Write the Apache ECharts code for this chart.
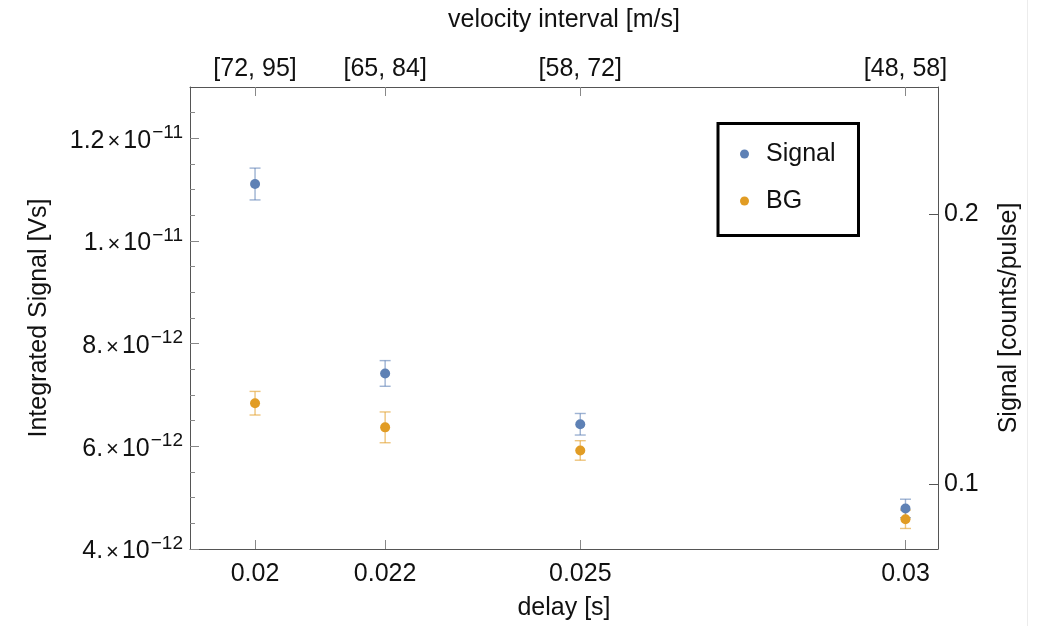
<!DOCTYPE html>
<html>
<head>
<meta charset="utf-8">
<script src="https://cdn.jsdelivr.net/npm/echarts@6/dist/echarts.min.js"></script>
<style>
html,body{margin:0;padding:0;background:#fff;}
#chart{width:1038px;height:626px;}
</style>
</head>
<body>
<div id="chart"></div>
<script>
const delays = [0.02, 0.022, 0.025, 0.03];
const velocityLabels = ['[72, 95]', '[65, 84]', '[58, 72]', '[48, 58]'];
const signalValues = [11.11e-12, 7.42e-12, 6.43e-12, 4.79e-12];
const signalErrors = [0.31e-12, 0.25e-12, 0.21e-12, 0.18e-12];
const bgValues = [6.84e-12, 6.37e-12, 5.92e-12, 4.58e-12];
const bgErrors = [0.23e-12, 0.30e-12, 0.19e-12, 0.18e-12];
const leftMajorTicks = [4e-12, 6e-12, 8e-12, 10e-12, 12e-12];
const leftMinorTicks = [4.5e-12, 5e-12, 5.5e-12, 6.5e-12, 7e-12, 7.5e-12, 8.5e-12, 9e-12, 9.5e-12,
                        10.5e-12, 11e-12, 11.5e-12, 12.5e-12];
const rightTicks = [0.1, 0.2];

const FONT = '"Liberation Sans", Arial, sans-serif';
const BLUE = '#5e81b5';
const ORANGE = '#e19c24';
const TXT = '#111';

function sciLabel(v) {
  const exp = Math.floor(Math.log10(v) + 1e-9);
  let mant = Math.round(v / Math.pow(10, exp) * 10) / 10;
  let ms = Number.isInteger(mant) ? mant + '.' : String(mant);
  return '{m|' + ms + '}{x|×}{m|10}{s|−' + Math.abs(exp) + '}';
}

function errRender(color) {
  return function (params, api) {
    const x = api.value(0), y = api.value(1), e = api.value(2);
    const t = api.coord([x, y + e]);
    const b = api.coord([x, y - e]);
    const w = 5.5;
    const style = { stroke: color, lineWidth: 1.4, opacity: 0.6 };
    return {
      type: 'group',
      children: [
        { type: 'line', shape: { x1: t[0], y1: t[1], x2: b[0], y2: b[1] }, style },
        { type: 'line', shape: { x1: t[0] - w, y1: t[1], x2: t[0] + w, y2: t[1] }, style },
        { type: 'line', shape: { x1: b[0] - w, y1: b[1], x2: b[0] + w, y2: b[1] }, style }
      ]
    };
  };
}

const chart = echarts.init(document.getElementById('chart'));
const axisLine = { show: true, lineStyle: { color: '#555', width: 1 } };
const tickStyle = { color: '#888', width: 1 };

chart.setOption({
  animation: false,
  textStyle: { fontFamily: FONT },
  grid: { left: 190, right: 100, top: 87, bottom: 77 },
  legend: {
    orient: 'vertical',
    left: 718, top: 123.5,
    padding: [17, 23, 21, 22],
    borderColor: '#000', borderWidth: 3,
    itemWidth: 9, itemHeight: 9, itemGap: 20,
    icon: 'circle',
    textStyle: { fontSize: 25, color: TXT, fontFamily: FONT, lineHeight: 27, padding: [0, 0, 0, 12] },
    data: ['Signal', 'BG']
  },
  xAxis: [
    {
      type: 'value', position: 'bottom', min: 0.019, max: 0.0305,
      name: 'delay [s]', nameLocation: 'middle', nameGap: 47,
      nameTextStyle: { fontSize: 25, color: TXT, fontFamily: FONT },
      axisLine: axisLine,
      splitLine: { show: false },
      axisTick: { show: true, inside: true, length: 9, lineStyle: tickStyle, customValues: delays },
      axisLabel: { fontSize: 25, color: TXT, margin: 13, fontFamily: FONT, customValues: delays,
        formatter: v => String(Math.round(v * 1000) / 1000) }
    },
    {
      type: 'value', position: 'top', min: 0.019, max: 0.0305,
      name: 'velocity interval [m/s]', nameLocation: 'middle', nameGap: 54,
      nameTextStyle: { fontSize: 25, color: TXT, fontFamily: FONT },
      axisLine: axisLine,
      splitLine: { show: false },
      axisTick: { show: true, inside: true, length: 9, lineStyle: tickStyle, customValues: delays },
      axisLabel: { fontSize: 25, color: TXT, margin: 5, fontFamily: FONT, customValues: delays,
        formatter: v => {
          const i = delays.findIndex(d => Math.abs(d - v) < 1e-9);
          return i >= 0 ? velocityLabels[i] : '';
        } }
    }
  ],
  yAxis: [
    {
      type: 'value', position: 'left', min: 4e-12, max: 1.3e-11,
      name: 'Integrated Signal [Vs]', nameLocation: 'middle', nameGap: 138,
      nameTextStyle: { fontSize: 25, color: TXT, fontFamily: FONT },
      axisLine: axisLine,
      splitLine: { show: false },
      axisTick: { show: true, inside: true, length: 9, lineStyle: tickStyle, customValues: leftMajorTicks },
      axisLabel: {
        margin: 7, color: TXT, fontFamily: FONT, customValues: leftMajorTicks,
        formatter: sciLabel,
        rich: {
          m: { fontSize: 25, color: TXT, fontFamily: FONT, lineHeight: 30, verticalAlign: 'bottom' },
          x: { fontSize: 22, color: TXT, fontFamily: FONT, lineHeight: 30, verticalAlign: 'bottom', padding: [0, 3, 0, 3] },
          s: { fontSize: 19, color: TXT, fontFamily: FONT, lineHeight: 19, verticalAlign: 'top', padding: [0, 0, 0, 1] }
        }
      }
    },
    {
      type: 'value', position: 'right', min: 0.076, max: 0.2473,
      name: 'Signal [counts/pulse]', nameLocation: 'middle', nameGap: 59,
      nameTextStyle: { fontSize: 25, color: TXT, fontFamily: FONT },
      axisLine: axisLine,
      splitLine: { show: false },
      axisTick: { show: true, inside: true, length: 9, lineStyle: { color: '#555' }, customValues: rightTicks },
      axisLabel: { fontSize: 25, color: TXT, margin: 6, fontFamily: FONT, customValues: rightTicks,
        formatter: v => String(Math.round(v * 10) / 10) }
    },
    {
      type: 'value', position: 'left', min: 4e-12, max: 1.3e-11,
      axisLine: { show: false },
      splitLine: { show: false },
      axisTick: { show: true, inside: true, length: 5, lineStyle: tickStyle, customValues: leftMinorTicks },
      axisLabel: { show: false }
    }
  ],
  graphic: [
    { type: 'line', shape: { x1: 1027.5, y1: 0, x2: 1027.5, y2: 626 }, style: { stroke: '#ececec', lineWidth: 1 } }
  ],
  series: [
    {
      type: 'custom', name: 'SignalErr', xAxisIndex: 0, yAxisIndex: 0, z: 1,
      renderItem: errRender(BLUE), encode: { x: 0, y: 1 },
      data: delays.map((d, i) => [d, signalValues[i], signalErrors[i]])
    },
    {
      type: 'custom', name: 'BGErr', xAxisIndex: 0, yAxisIndex: 0, z: 1,
      renderItem: errRender(ORANGE), encode: { x: 0, y: 1 },
      data: delays.map((d, i) => [d, bgValues[i], bgErrors[i]])
    },
    {
      type: 'scatter', name: 'Signal', xAxisIndex: 0, yAxisIndex: 0, z: 3,
      symbolSize: 10, itemStyle: { color: BLUE, opacity: 1 },
      data: delays.map((d, i) => [d, signalValues[i]])
    },
    {
      type: 'scatter', name: 'BG', xAxisIndex: 0, yAxisIndex: 0, z: 3,
      symbolSize: 10, itemStyle: { color: ORANGE, opacity: 1 },
      data: delays.map((d, i) => [d, bgValues[i]])
    }
  ]
});
</script>
</body>
</html>
